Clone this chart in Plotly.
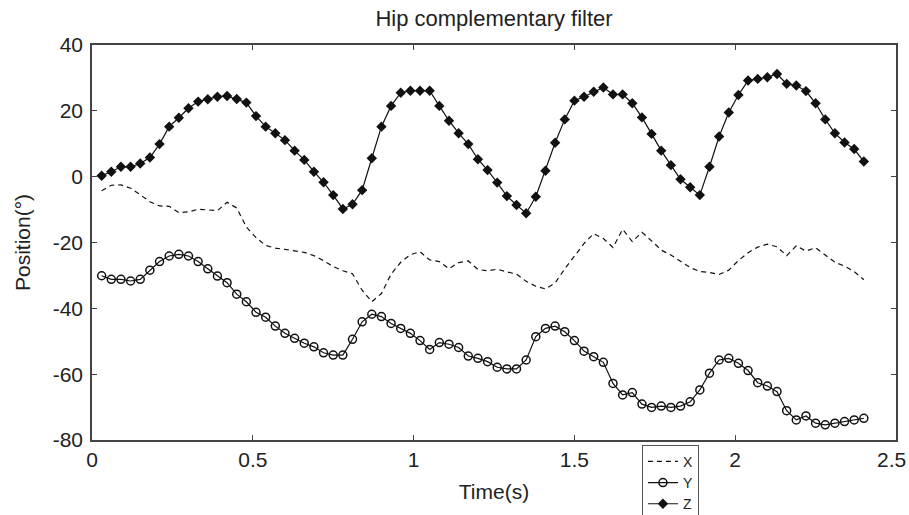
import plotly.graph_objects as go

time_s = [0.03, 0.06, 0.09, 0.12, 0.15, 0.18, 0.21, 0.24, 0.27, 0.30,
          0.33, 0.36, 0.39, 0.42, 0.45, 0.48, 0.51, 0.54, 0.57, 0.60,
          0.63, 0.66, 0.69, 0.72, 0.75, 0.78, 0.81, 0.84, 0.87, 0.90,
          0.93, 0.96, 0.99, 1.02, 1.05, 1.08, 1.11, 1.14, 1.17, 1.20,
          1.23, 1.26, 1.29, 1.32, 1.35, 1.38, 1.41, 1.44, 1.47, 1.50,
          1.53, 1.56, 1.59, 1.62, 1.65, 1.68, 1.71, 1.74, 1.77, 1.80,
          1.83, 1.86, 1.89, 1.92, 1.95, 1.98, 2.01, 2.04, 2.07, 2.10,
          2.13, 2.16, 2.19, 2.22, 2.25, 2.28, 2.31, 2.34, 2.37, 2.40]

pos_x = [-4.3, -2.6, -2.5, -3.5, -5.5, -7.6, -8.9, -9.0, -10.9, -10.7,
         -9.9, -10.0, -10.3, -7.8, -9.5, -15.3, -18.5, -20.9, -21.7, -22.1,
         -22.5, -23.0, -24.0, -25.5, -27.3, -28.6, -29.5, -34.5, -38.0, -35.5,
         -29.6, -26.0, -23.7, -22.8, -25.3, -25.8, -28.0, -26.1, -25.6, -28.2,
         -28.6, -28.1, -28.9, -29.6, -31.8, -33.3, -34.1, -32.3, -28.0, -24.0,
         -20.3, -17.3, -18.8, -21.5, -16.0, -19.7, -16.9, -19.5, -22.3, -23.8,
         -25.6, -27.6, -28.8, -29.1, -29.7, -28.4, -25.5, -23.1, -21.4, -20.5,
         -21.3, -24.0, -21.0, -22.6, -21.6, -23.8, -26.0, -27.2, -28.8, -31.3]

pos_y = [-30.1, -31.2, -31.2, -31.7, -31.2, -28.4, -25.8, -24.1, -23.6, -24.1,
         -25.8, -28.0, -30.2, -32.2, -35.7, -38.0, -41.2, -42.7, -45.4, -47.6,
         -49.1, -50.6, -51.7, -53.5, -54.2, -54.2, -49.4, -44.1, -41.8, -42.5,
         -44.6, -46.1, -47.6, -49.8, -52.5, -50.4, -50.9, -51.9, -54.5, -55.2,
         -56.2, -57.9, -58.4, -58.4, -55.7, -48.6, -46.1, -45.4, -47.1, -49.8,
         -53.0, -54.7, -56.4, -62.8, -66.3, -65.6, -69.1, -70.1, -69.7, -70.1,
         -69.7, -68.4, -64.8, -59.7, -55.7, -55.2, -56.7, -58.9, -62.6, -63.6,
         -65.3, -71.1, -73.9, -72.7, -74.9, -75.4, -74.9, -74.4, -73.9, -73.4]

pos_z = [0.3, 1.5, 3.0, 3.0, 4.0, 5.8, 9.9, 15.2, 17.9, 20.8,
         22.8, 23.5, 24.3, 24.5, 23.6, 22.5, 18.4, 15.2, 13.2, 11.1,
         7.9, 5.1, 1.5, -1.7, -5.6, -9.8, -8.4, -4.1, 5.6, 15.2,
         21.5, 25.5, 26.1, 26.1, 26.1, 21.5, 17.0, 13.2, 9.9, 5.3,
         2.0, -1.8, -5.9, -8.6, -11.1, -6.1, 1.8, 10.3, 17.4, 23.1,
         24.3, 25.8, 27.1, 25.0, 25.0, 22.3, 18.0, 13.0, 7.9, 3.5,
         -0.8, -3.2, -5.6, 3.0, 12.2, 19.5, 24.8, 29.2, 29.7, 30.2,
         31.2, 28.2, 27.7, 26.0, 22.3, 17.4, 13.2, 10.4, 8.4, 4.6]

x_ticks = [0, 0.5, 1, 1.5, 2, 2.5]
x_tick_labels = ["0", "0.5", "1", "1.5", "2", "2.5"]
y_ticks = [40, 20, 0, -20, -40, -60, -80]
y_tick_labels = ["40", "20", "0", "-20", "-40", "-60", "-80"]

FONT = "Liberation Sans, Arial, sans-serif"
INK = "#222222"

fig = go.Figure()
fig.add_trace(go.Scatter(
    x=time_s, y=pos_x, name="X", mode="lines", legendgroup="x",
    line=dict(color="#111111", width=1.2, dash="5px,4px")))
fig.add_trace(go.Scatter(
    x=time_s, y=pos_y, name="Y", mode="lines+markers", legendgroup="y",
    line=dict(color="#111111", width=1.2),
    marker=dict(symbol="circle-open", size=8, color="#111111",
                line=dict(width=1.5, color="#111111"))))
fig.add_trace(go.Scatter(
    x=time_s, y=pos_z, name="Z", mode="lines+markers", legendgroup="z",
    line=dict(color="#111111", width=1.2),
    marker=dict(symbol="diamond", size=8, color="#111111")))

axis_common = dict(
    showgrid=False, zeroline=False, showline=True, linecolor="#444444",
    linewidth=1.5, mirror="ticks", ticks="inside", ticklen=5,
    tickcolor="#444444", tickwidth=1.2, automargin=False,
    ticklabeloverflow="allow",
    tickfont=dict(family=FONT, size=21, color=INK),
)

# last x tick label is right-aligned at the figure edge (as in the reference)
x_ticktext_axis = x_tick_labels[:-1] + [""]

fig.update_layout(
    width=909, height=515,
    paper_bgcolor="white", plot_bgcolor="white",
    margin=dict(l=92, r=13, t=45, b=75, autoexpand=False),
    font=dict(family=FONT, color=INK),
    title=dict(text="Hip complementary filter", x=0.5435, xanchor="center",
               y=0.965, yanchor="middle", yref="container",
               font=dict(family=FONT, size=22, color=INK)),
    xaxis=dict(range=[0, 2.5], tickvals=x_ticks, ticktext=x_ticktext_axis,
               title=dict(text="Time(s)", font=dict(family=FONT, size=21, color=INK),
                          standoff=14),
               **axis_common),
    yaxis=dict(range=[-80, 40], tickvals=y_ticks, ticktext=y_tick_labels,
               ticklabelstandoff=3,
               title=dict(text="Position(°)", font=dict(family=FONT, size=21, color=INK),
                          standoff=16),
               **axis_common),
    legend=dict(x=0.684, y=-0.012, xanchor="left", yanchor="top",
                bgcolor="white", bordercolor="#555555", borderwidth=1,
                font=dict(family=FONT, size=14, color=INK),
                tracegroupgap=0, itemwidth=30),
    showlegend=True,
    annotations=[dict(
        text=x_tick_labels[-1], x=x_ticks[-1], xref="x", xanchor="right",
        xshift=12, y=0, yref="paper", yanchor="top", yshift=-6,
        showarrow=False, font=dict(family=FONT, size=21, color=INK))],
)

fig.write_html("out.html", config={"displayModeBar": False},
               post_script="document.body.style.margin='0';document.body.style.overflow='hidden';")
